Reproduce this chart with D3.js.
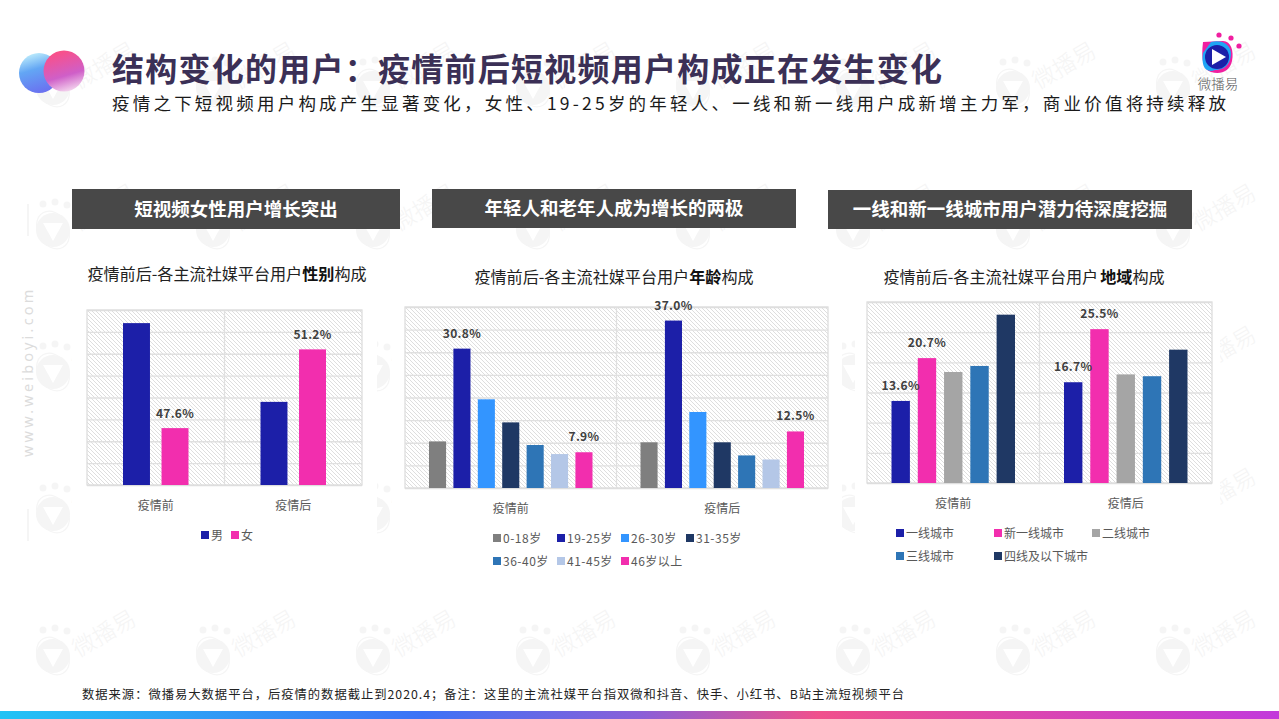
<!DOCTYPE html>
<html>
<head>
<meta charset="utf-8">
<script src="https://cdn.jsdelivr.net/npm/d3@7"></script>
<style>
  html, body { margin: 0; padding: 0; background: #fff; overflow: hidden; }
  text { font-family: "Noto Sans CJK SC", "Noto Sans", sans-serif; }
</style>
</head>
<body>
<div id="chart"></div>
<script>
// chart values
var periods = ["疫情前", "疫情后"];

var genderSeries = ["男", "女"];
var genderBefore = [52.4, 47.6];
var genderAfter = [48.8, 51.2];
var genderColors = ["#1c1fa8", "#f22eae"];
var genderLabelled = ["女"];

var ageSeries = ["0-18岁", "19-25岁", "26-30岁", "31-35岁", "36-40岁", "41-45岁", "46岁以上"];
var ageBefore = [10.3, 30.8, 19.6, 14.5, 9.5, 7.5, 7.9];
var ageAfter = [10.1, 37.0, 16.8, 10.1, 7.2, 6.3, 12.5];
var ageColors = ["#7f7f7f", "#1c1fa8", "#3395ff", "#1f3864", "#2e75b6", "#b4c7e7", "#f22eae"];
var ageLabelled = ["19-25岁", "46岁以上"];

var citySeries = ["一线城市", "新一线城市", "二线城市", "三线城市", "四线及以下城市"];
var cityBefore = [13.6, 20.7, 18.4, 19.4, 27.9];
var cityAfter = [16.7, 25.5, 18.0, 17.7, 22.1];
var cityColors = ["#1c1fa8", "#f22eae", "#a5a5a5", "#2e75b6", "#1f3864"];
var cityLabelled = ["一线城市", "新一线城市"];

var svg = d3.select("#chart")
  .append("svg")
  .attr("width", 1279)
  .attr("height", 719)
  .style("display", "block");

var defs = svg.append("defs");

// hatch behind the bars
var hatch = defs.append("pattern")
  .attr("id", "hatch")
  .attr("width", 4)
  .attr("height", 4)
  .attr("patternUnits", "userSpaceOnUse");
hatch.append("rect").attr("width", 4).attr("height", 4).attr("fill", "#fff");
hatch.append("path")
  .attr("d", "M-1,-1L5,5M-1,3L1,5M3,-1L5,1")
  .attr("stroke", "#dedede")
  .attr("stroke-width", 1);

var barGrad = defs.append("linearGradient").attr("id", "strip");
[["0%", "#22c3f5"], ["33%", "#3d72f6"], ["50%", "#8a5fd8"], ["64%", "#f0508c"], ["100%", "#c23adb"]].forEach(function(s) {
  barGrad.append("stop").attr("offset", s[0]).attr("stop-color", s[1]);
});

var blueGrad = defs.append("linearGradient").attr("id", "blueBall")
  .attr("x1", 0.3).attr("y1", 0).attr("x2", 0.6).attr("y2", 1);
blueGrad.append("stop").attr("offset", "0%").attr("stop-color", "#bfeefc");
blueGrad.append("stop").attr("offset", "40%").attr("stop-color", "#63a6f4");
blueGrad.append("stop").attr("offset", "100%").attr("stop-color", "#6a6ff0");

var pinkGrad = defs.append("linearGradient").attr("id", "pinkBall")
  .attr("x1", 0.4).attr("y1", 0).attr("x2", 0.7).attr("y2", 1);
pinkGrad.append("stop").attr("offset", "0%").attr("stop-color", "#fb4f86");
pinkGrad.append("stop").attr("offset", "60%").attr("stop-color", "#cf5fc8");
pinkGrad.append("stop").attr("offset", "100%").attr("stop-color", "#f6dcf0");

// watermark tile
var mark = defs.append("g").attr("id", "mark");
mark.append("circle").attr("r", 17).attr("fill", "#f5f5f5");
mark.append("ellipse").attr("rx", 20).attr("ry", 15)
  .attr("transform", "rotate(60)")
  .attr("fill", "none").attr("stroke", "#f5f5f5").attr("stroke-width", 1.2);
mark.append("path").attr("d", "M-10,-7L10,-7L0,11Z").attr("fill", "#fff");
[[-10, -26, 3.5], [2, -28, 3.5], [14, -25, 3.5]].forEach(function(d) {
  mark.append("circle").attr("cx", d[0]).attr("cy", d[1]).attr("r", d[2]).attr("fill", "#f5f5f5");
});
mark.append("text")
  .attr("transform", "translate(52,-21) rotate(-30)")
  .attr("text-anchor", "middle")
  .attr("dominant-baseline", "middle")
  .attr("font-size", 23)
  .attr("font-weight", 300)
  .attr("fill", "#f5f5f5")
  .text("微播易");

var wmRows = [88, 230, 372, 514, 656];
var wmCols = [53, 213, 373, 533, 693, 853, 1013, 1173];
var wm = svg.append("g");
wmRows.forEach(function(y) {
  wmCols.forEach(function(x) {
    wm.append("use").attr("href", "#mark").attr("x", x).attr("y", y);
  });
});

// side decoration
svg.append("text")
  .attr("transform", "translate(33,457) rotate(-90)")
  .attr("font-size", 14.5)
  .attr("letter-spacing", 3.2)
  .attr("fill", "#dcdcdc")
  .style("font-family", "'Noto Sans', sans-serif")
  .text("www.weiboyi.com");
[[204, 236], [509, 541]].forEach(function(d) {
  svg.append("line").attr("x1", 28).attr("x2", 28).attr("y1", d[0]).attr("y2", d[1])
    .attr("stroke", "#eeeeee").attr("stroke-width", 1.2);
});

// white blocks under the charts hide the watermark
[[72, 250, 305, 300], [392, 262, 450, 310], [855, 262, 365, 310]].forEach(function(r) {
  svg.append("rect").attr("x", r[0]).attr("y", r[1]).attr("width", r[2]).attr("height", r[3]).attr("fill", "#fff");
});

// heading
svg.append("circle").attr("cx", 39).attr("cy", 73).attr("r", 20).attr("fill", "url(#blueBall)");
svg.append("circle").attr("cx", 64).attr("cy", 71).attr("r", 20.5).attr("fill", "url(#pinkBall)");

svg.append("text")
  .attr("x", 112).attr("y", 81)
  .attr("font-size", 32).attr("font-weight", 700)
  .attr("fill", "#3b3056")
  .attr("textLength", 830)
  .text("结构变化的用户\uFF1A疫情前后短视频用户构成正在发生变化");

svg.append("text")
  .attr("x", 112).attr("y", 110)
  .attr("font-size", 17.5)
  .attr("fill", "#1a1a1a")
  .attr("textLength", 1114)
  .text("疫情之下短视频用户构成产生显著变化\uFF0C女性、19-25岁的年轻人、一线和新一线用户成新增主力军\uFF0C商业价值将持续释放");

// top right logo
var logo = svg.append("g").attr("transform", "translate(1217,57)");
logo.append("path").attr("d", "M-14,-15L6,-16C14,-16 17,-6 15,4C13,14 4,18 -6,15C-14,13 -16,2 -14,-15Z").attr("fill", "#f01fa0");
logo.append("path").attr("d", "M-6,-15C6,-18 15,-11 14,-2C13,8 7,13 -2,13C-12,17 -16,8 -14,-4Z").attr("fill", "#1fa5f5");
logo.append("circle").attr("r", 12).attr("fill", "#1c1fa8");
logo.append("path").attr("d", "M-5,-8L9,0L-5,8Z").attr("fill", "#fff");
[[2, -22, 2.6], [14, -19, 2.6], [22, -11, 2.6]].forEach(function(d) {
  logo.append("circle").attr("cx", d[0]).attr("cy", d[1]).attr("r", d[2]).attr("fill", "#f01fa0");
});
svg.append("text")
  .attr("x", 1218).attr("y", 89)
  .attr("text-anchor", "middle")
  .attr("font-size", 13.5)
  .attr("font-weight", 300)
  .attr("fill", "#595959")
  .text("微播易");

// dark header bars above each chart
var headers = [
  { x: 72, y: 189, w: 328, h: 40, t: "短视频女性用户增长突出" },
  { x: 432, y: 189, w: 364, h: 39, t: "年轻人和老年人成为增长的两极" },
  { x: 828, y: 190, w: 364, h: 39, t: "一线和新一线城市用户潜力待深度挖掘" }
];
headers.forEach(function(d) {
  svg.append("rect").attr("x", d.x).attr("y", d.y).attr("width", d.w).attr("height", d.h).attr("fill", "#484848");
  svg.append("text")
    .attr("x", d.x + d.w / 2).attr("y", d.y + d.h / 2 + 6.5)
    .attr("text-anchor", "middle")
    .attr("font-size", 18.5).attr("font-weight", 700)
    .attr("fill", "#fff")
    .text(d.t);
});

function drawChart(opt) {
  var width = opt.right - opt.left;
  var height = opt.bottom - opt.top;
  var g = svg.append("g").attr("transform", `translate(${opt.left}, ${opt.top})`);

  var x0 = d3.scaleBand().domain(periods).range([0, width]);
  var x1 = d3.scaleBand().domain(opt.series)
    .range([opt.gap, x0.bandwidth() - opt.gap])
    .paddingInner(0.3)
    .paddingOuter(0);
  var y = d3.scaleLinear().domain(opt.domain).range([height, 0]);

  g.append("rect").attr("width", width).attr("height", height).attr("fill", "url(#hatch)");

  // horizontal grid
  var grid = g.append("g")
    .call(d3.axisLeft(y).tickValues(d3.range(opt.domain[0], opt.domain[1] + 0.01, opt.tickStep)).tickSize(-width).tickFormat(""));
  grid.select(".domain").remove();
  grid.selectAll("line").attr("stroke", "#e0e0e0").attr("stroke-width", 1.3);

  // frame and category divider
  g.append("rect").attr("width", width).attr("height", height)
    .attr("fill", "none").attr("stroke", "#dedede").attr("stroke-width", 1.3);
  g.append("line")
    .attr("x1", x0(periods[1])).attr("x2", x0(periods[1]))
    .attr("y1", 0).attr("y2", height)
    .attr("stroke", "#e0e0e0").attr("stroke-width", 1.3);

  var rows = [opt.before, opt.after];
  periods.forEach(function(p, i) {
    var group = g.append("g").attr("transform", `translate(${x0(p)}, 0)`);
    var items = opt.series.map(function(s, j) {
      return { name: s, value: rows[i][j], color: opt.colors[j] };
    });

    group.selectAll(".bar")
      .data(items)
      .enter()
      .append("rect")
      .attr("class", "bar")
      .attr("x", d => x1(d.name))
      .attr("y", d => y(d.value))
      .attr("width", x1.bandwidth())
      .attr("height", d => height - y(d.value))
      .attr("fill", d => d.color);

    group.selectAll(".val")
      .data(items.filter(d => opt.labelled.indexOf(d.name) >= 0))
      .enter()
      .append("text")
      .attr("class", "val")
      .attr("x", d => x1(d.name) + x1.bandwidth() / 2)
      .attr("y", d => y(d.value) - opt.labelGap)
      .attr("text-anchor", "middle")
      .attr("font-size", 12)
      .attr("font-weight", 700)
      .attr("letter-spacing", 0.3)
      .attr("fill", "#404040")
      .text(d => d.value.toFixed(1) + "%");
  });

  // category labels
  var bottomAxis = g.append("g")
    .attr("transform", `translate(0, ${height})`)
    .call(d3.axisBottom(x0).tickSize(0).tickPadding(opt.catPad));
  bottomAxis.select(".domain").remove();
  bottomAxis.selectAll("text")
    .style("font-family", "'Noto Sans CJK SC'")
    .style("font-size", "12px")
    .attr("fill", "#595959");

  // panel title
  var title = svg.append("text")
    .attr("x", opt.titleX).attr("y", opt.titleY)
    .attr("text-anchor", "middle")
    .attr("font-size", 16.1)
    .attr("fill", "#222");
  title.append("tspan").text(opt.titleA);
  title.append("tspan").attr("font-weight", 700).attr("fill", "#111").attr("dx", opt.titleGap).text(opt.titleB);
  title.append("tspan").text("构成");

  // legend
  var legend = svg.selectAll(null)
    .data(opt.series)
    .enter()
    .append("g")
    .attr("transform", (d, i) => `translate(${opt.legendX[i]}, ${opt.legendY[i]})`);
  legend.append("rect").attr("y", -4).attr("width", 8).attr("height", 8).attr("fill", (d, i) => opt.colors[i]);
  legend.append("text")
    .attr("x", 10).attr("y", 4.5)
    .attr("font-size", 12)
    .attr("letter-spacing", opt.legendSpacing)
    .attr("fill", "#595959")
    .text(d => d);
}

drawChart({
  left: 87, right: 362, top: 310, bottom: 485,
  gap: 36, domain: [45, 53], tickStep: 1, labelGap: 10, catPad: 16,
  series: genderSeries, before: genderBefore, after: genderAfter,
  colors: genderColors, labelled: genderLabelled,
  titleX: 227, titleY: 280, titleA: "疫情前后-各主流社媒平台用户", titleB: "性别", titleGap: 0,
  legendX: [201, 231], legendY: [535, 535], legendSpacing: 0
});

drawChart({
  left: 405, right: 828, top: 307, bottom: 488,
  gap: 24, domain: [0, 40], tickStep: 5, labelGap: 11, catPad: 16,
  series: ageSeries, before: ageBefore, after: ageAfter,
  colors: ageColors, labelled: ageLabelled,
  titleX: 614, titleY: 283, titleA: "疫情前后-各主流社媒平台用户", titleB: "年龄", titleGap: 0,
  legendX: [493, 557, 621, 686, 493, 557, 621],
  legendY: [538, 538, 538, 538, 561, 561, 561], legendSpacing: 0.5
});

drawChart({
  left: 867, right: 1212, top: 302, bottom: 483,
  gap: 24.5, domain: [0, 30], tickStep: 5, labelGap: 11, catPad: 16,
  series: citySeries, before: cityBefore, after: cityAfter,
  colors: cityColors, labelled: cityLabelled,
  titleX: 1024, titleY: 283, titleA: "疫情前后-各主流社媒平台用户", titleB: "地域", titleGap: 2,
  legendX: [896, 994, 1092, 896, 994],
  legendY: [533, 533, 533, 556, 556], legendSpacing: 0
});

// footer
svg.append("text")
  .attr("x", 82).attr("y", 699)
  .attr("font-size", 12.3)
  .attr("fill", "#222")
  .attr("textLength", 822)
  .text("数据来源\uFF1A微播易大数据平台\uFF0C后疫情的数据截止到2020.4\uFF1B备注\uFF1A这里的主流社媒平台指双微和抖音、快手、小红书、B站主流短视频平台");

svg.append("rect")
  .attr("x", 0).attr("y", 711)
  .attr("width", 1279).attr("height", 8)
  .attr("fill", "url(#strip)");
</script>
</body>
</html>
